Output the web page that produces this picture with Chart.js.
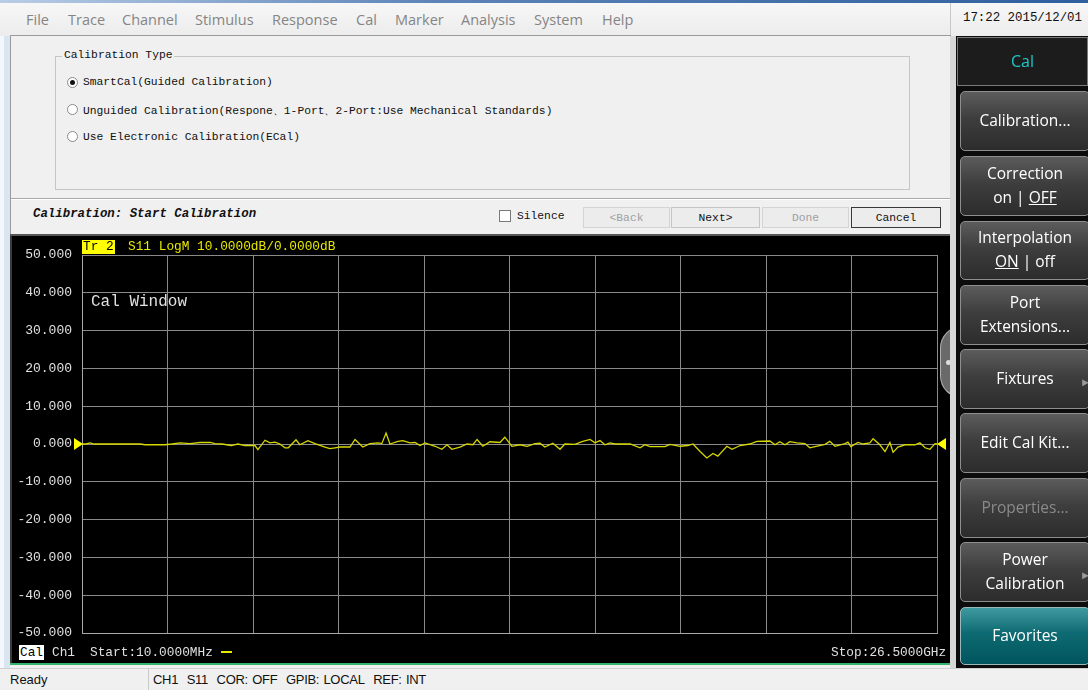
<!DOCTYPE html>
<html>
<head>
<meta charset="utf-8">
<script src="https://cdn.jsdelivr.net/npm/chart.js@4.4.1/dist/chart.umd.min.js"></script>
<style>
  html,body{margin:0;padding:0;}
  body{width:1088px;height:690px;position:relative;overflow:hidden;background:#f0f0f0;font-family:"Liberation Sans",sans-serif;}
  .abs{position:absolute;white-space:nowrap;}
  .menu{top:10px;font-family:"Open Sans",sans-serif;font-size:14.5px;color:#858585;}
  .mono{font-family:"Liberation Mono",monospace;}
  .dlg{font-family:"Liberation Mono",monospace;font-size:11.3px;color:#111;}
  .radio{position:absolute;width:9px;height:9px;border:1px solid #8a8a8a;border-radius:50%;background:#fff;}
  .btn{position:absolute;height:21px;border:1px solid #c4c4c4;background:#ececec;font-family:"Liberation Mono",monospace;font-size:11.3px;text-align:center;line-height:21px;color:#111;box-sizing:border-box;}
  .rb{position:absolute;left:960px;width:130px;border:1px solid #8e8e8e;border-radius:5px;box-sizing:border-box;
      background:linear-gradient(#5c5c5c 0%,#3e3e3e 45%,#2c2c2c 100%);color:#fff;font-family:"Open Sans",sans-serif;font-size:15.5px;text-align:center;display:flex;flex-direction:column;justify-content:center;line-height:24px;padding-bottom:3px;}
  .arrow{position:absolute;right:-2px;font-size:11px;color:#9a9a9a;}
  .ctext{font-family:"Liberation Mono",monospace;font-size:12.8px;}
</style>
</head>
<body>
<!-- window frame -->
<div class="abs" style="left:0;top:0;width:1088px;height:3px;background:linear-gradient(90deg,#b9cde6,#5d84b8 40%,#2f5f9e);"></div>
<div class="abs" style="left:0;top:3px;width:1088px;height:33px;background:linear-gradient(#f7f7f7,#ececec);"></div>
<div class="abs" style="left:0;top:36px;width:10px;height:632px;background:#dae5f2;border-left:4px solid #f4f7fb;box-sizing:border-box;"></div>

<!-- menu -->
<div class="abs menu" style="left:26px;">File</div>
<div class="abs menu" style="left:68px;">Trace</div>
<div class="abs menu" style="left:122px;">Channel</div>
<div class="abs menu" style="left:195px;">Stimulus</div>
<div class="abs menu" style="left:272px;">Response</div>
<div class="abs menu" style="left:356px;">Cal</div>
<div class="abs menu" style="left:395px;">Marker</div>
<div class="abs menu" style="left:461px;">Analysis</div>
<div class="abs menu" style="left:534px;">System</div>
<div class="abs menu" style="left:602px;">Help</div>
<div class="abs" style="left:950px;top:3px;width:1px;height:33px;background:#c8c8c8;"></div>
<div class="abs mono" style="left:963px;top:11px;font-size:12.4px;color:#111;">17:22 2015/12/01</div>

<!-- dialog -->
<div class="abs" style="left:10px;top:35px;width:940px;height:200px;border-top:1px solid #9a9a9a;border-left:1px solid #9a9a9a;background:#f0f0f0;"></div>
<div class="abs" style="left:55px;top:56px;width:855px;height:134px;border:1px solid #c6c6c6;box-sizing:border-box;"></div>
<div class="abs dlg" style="left:62px;top:49px;background:#f0f0f0;padding:0 2px;">Calibration Type</div>
<div class="radio" style="left:67px;top:77px;"><div style="position:absolute;left:2px;top:2px;width:5px;height:5px;border-radius:50%;background:#111;"></div></div>
<div class="abs dlg" style="left:83px;top:76px;">SmartCal(Guided Calibration)</div>
<div class="radio" style="left:67px;top:104px;"></div>
<div class="abs dlg" style="left:83px;top:103px;">Unguided Calibration(Respone、1-Port、2-Port:Use Mechanical Standards)</div>
<div class="radio" style="left:67px;top:131px;"></div>
<div class="abs dlg" style="left:83px;top:131px;">Use Electronic Calibration(ECal)</div>
<div class="abs" style="left:11px;top:198px;width:939px;height:1px;background:#a8a8a8;border-bottom:1px solid #fff;"></div>
<div class="abs mono" style="left:33px;top:207px;font-size:12.4px;font-weight:bold;font-style:italic;color:#111;">Calibration: Start Calibration</div>
<div class="abs" style="left:499px;top:210px;width:12px;height:12px;border:1px solid #7a7a7a;background:#fff;box-sizing:border-box;"></div>
<div class="abs dlg" style="left:517px;top:210px;">Silence</div>
<div class="btn" style="left:583px;top:207px;width:87px;color:#a0a0a0;border-color:#d4d4d4;">&lt;Back</div>
<div class="btn" style="left:671px;top:207px;width:89px;">Next&gt;</div>
<div class="btn" style="left:762px;top:207px;width:87px;color:#a0a0a0;border-color:#d4d4d4;">Done</div>
<div class="btn" style="left:851px;top:207px;width:90px;border-color:#3a3a3a;">Cancel</div>

<!-- chart region -->
<div class="abs" style="left:10px;top:234px;width:942px;height:2px;background:#555;"></div>
<div class="abs" style="left:10px;top:236px;width:2px;height:428px;background:#3a3a3a;"></div>
<div class="abs" style="left:12px;top:236px;width:938px;height:427px;background:#000;"></div>
<div class="abs" style="left:12px;top:236px;width:938px;height:427px;"><canvas id="c" width="938" height="427"></canvas></div>
<div class="abs" style="left:10px;top:663px;width:942px;height:2px;background:#33b36e;"></div>

<div class="abs ctext" style="left:82px;top:240px;height:14px;line-height:14px;background:#ffff00;color:#000;padding:0 1px;">Tr 2</div>
<div class="abs ctext" style="left:128px;top:240px;line-height:14px;color:#e8e800;">S11 LogM 10.0000dB/0.0000dB</div>
<div class="abs mono" style="left:91px;top:293px;font-size:16px;color:#e0e0e0;">Cal Window</div>
<div class="abs ctext" style="left:19px;top:645px;height:15px;line-height:15px;background:#fff;color:#000;padding:0 1px;">Cal</div>
<div class="abs ctext" style="left:52px;top:645px;line-height:15px;color:#e0e0e0;">Ch1</div>
<div class="abs ctext" style="left:90px;top:645px;line-height:15px;color:#e0e0e0;">Start:10.0000MHz</div>
<div class="abs" style="left:221px;top:651px;width:11px;height:2px;background:#e8e800;"></div>
<div class="abs ctext" style="left:831px;top:645px;line-height:15px;color:#e0e0e0;">Stop:26.5000GHz</div>
<div class="abs" style="left:940px;top:326px;width:22px;height:72px;border-radius:40px 0 0 40px;background:#6a6a6a;border:1px solid #b0b0b0;box-sizing:border-box;"></div>
<div class="abs" style="left:946px;top:360px;width:5px;height:5px;border-radius:50%;background:#ddd;"></div>

<!-- right panel -->
<div class="abs" style="left:950px;top:36px;width:6px;height:632px;background:#d8d8d8;"></div>
<div class="abs" style="left:956px;top:36px;width:132px;height:632px;background:#0c0c0c;"></div>
<div class="abs" style="left:957px;top:37px;width:131px;height:49px;background:#1c1c1c;border:1px solid #7a7a7a;box-sizing:border-box;color:#1ec8c8;font-family:'Open Sans',sans-serif;font-size:16px;text-align:center;line-height:47px;">Cal</div>
<div class="rb" style="top:91px;height:60px;">Calibration...</div>
<div class="rb" style="top:156px;height:60px;"><div>Correction</div><div>on | <u>OFF</u></div></div>
<div class="rb" style="top:221px;height:59px;"><div>Interpolation</div><div><u>ON</u> | off</div></div>
<div class="rb" style="top:285px;height:60px;"><div>Port</div><div>Extensions...</div></div>
<div class="rb" style="top:349px;height:60px;">Fixtures<span class="arrow" style="top:20px;">&#9658;</span></div>
<div class="rb" style="top:413px;height:60px;">Edit Cal Kit...</div>
<div class="rb" style="top:478px;height:60px;color:#8a8a8a;">Properties...</div>
<div class="rb" style="top:542px;height:60px;"><div>Power</div><div>Calibration</div><span class="arrow" style="top:20px;">&#9658;</span></div>
<div class="rb" style="top:607px;height:58px;background:linear-gradient(#3f9aa0 0%,#0e6a72 45%,#00555d 100%);border-color:#9ab8bb;">Favorites</div>

<!-- status bar -->
<div class="abs" style="left:0;top:668px;width:1088px;height:22px;background:#f0f0f0;border-top:1px solid #d0d0d0;"></div>
<div class="abs" style="left:10px;top:672px;font-size:13px;color:#111;">Ready</div>
<div class="abs" style="left:148px;top:669px;width:1px;height:21px;background:#c8c8c8;"></div>
<div class="abs" style="left:153px;top:672px;font-size:13px;color:#111;letter-spacing:-0.3px;word-spacing:1px;">CH1&nbsp; S11&nbsp; COR: OFF&nbsp; GPIB: LOCAL&nbsp; REF: INT</div>

<script>
// ---- data ----
const START_GHZ = 0.01;
const STOP_GHZ = 26.5;
const yTicksDb = [-50, -40, -30, -20, -10, 0, 10, 20, 30, 40, 50];
const traceFreqGHz = [
  0.01,0.13,0.26,0.38,1.81,1.96,2.58,2.80,3.05,3.36,3.67,3.98,4.13,4.35,4.63,4.84,5.06,5.37,5.46,5.68,
  5.83,5.99,6.14,6.30,6.40,6.64,6.76,7.01,7.23,7.54,7.69,7.85,8.00,8.31,8.47,8.71,8.93,9.18,9.30,9.43,
  9.55,9.80,9.95,10.17,10.33,10.48,10.64,10.95,11.16,11.32,11.47,11.72,11.94,12.12,12.25,12.43,12.65,12.96,13.11,13.33,
  13.58,13.80,14.04,14.20,14.35,14.60,14.82,14.97,15.28,15.50,15.75,15.90,16.06,16.21,16.37,16.52,16.99,17.30,17.45,17.61,
  18.07,18.23,18.54,18.78,18.94,19.16,19.37,19.56,19.71,19.99,20.15,20.40,20.70,20.92,21.32,21.48,21.63,21.79,21.94,22.16,
  22.41,22.56,22.72,23.03,23.18,23.34,23.65,23.74,23.83,24.05,24.21,24.42,24.52,24.73,24.89,25.04,25.14,25.29,25.51,25.82,
  25.97,26.13,26.28,26.44,26.50
];
const traceDb = [
  0.0,0.0,0.3,0.0,0.0,-0.2,-0.2,0.0,0.3,0.1,0.4,0.4,0.1,0.0,-0.4,0.0,-0.4,-0.4,-1.5,1.0,
  0.3,0.5,0.0,-1.0,-1.0,1.1,-0.2,0.9,0.1,-0.8,-1.2,-1.0,-0.8,-0.8,1.2,-0.8,0.1,0.3,0.1,2.9,
  0.0,0.7,0.9,0.3,0.4,-0.4,0.3,-0.6,-1.4,-0.2,-1.4,-0.8,0.0,-0.2,1.2,-0.6,0.6,0.4,1.8,-0.6,
  -0.2,-0.6,0.1,0.2,-0.8,0.2,-1.4,0.0,-0.1,0.6,1.2,0.3,0.9,-0.2,0.3,0.0,0.0,-1.0,-0.2,-0.7,
  -0.7,-0.1,-0.6,-0.4,0.0,-2.0,-3.7,-2.5,-3.2,-0.6,-1.4,-0.4,0.0,0.7,0.8,-0.2,0.6,-0.2,0.6,0.3,
  0.1,-1.0,-0.7,-0.1,0.7,-0.6,0.1,0.5,-0.7,0.4,0.0,0.3,1.4,-0.2,-2.0,0.4,-2.2,-0.8,-0.2,-0.2,
  0.3,-1.0,-1.4,0.1,0.0
];

const GRID = '#8a8a8a';
const refMarkers = {
  id: 'refMarkers',
  afterDraw(chart) {
    const {ctx, chartArea: a, scales: {y}} = chart;
    const y0 = y.getPixelForValue(0);
    ctx.save();
    ctx.fillStyle = '#ffff00';
    ctx.beginPath();
    ctx.moveTo(a.left - 8, y0 - 6); ctx.lineTo(a.left + 1, y0); ctx.lineTo(a.left - 8, y0 + 6); ctx.closePath(); ctx.fill();
    ctx.beginPath();
    ctx.moveTo(a.right + 9, y0 - 6); ctx.lineTo(a.right, y0); ctx.lineTo(a.right + 9, y0 + 6); ctx.closePath(); ctx.fill();
    ctx.restore();
  }
};

new Chart(document.getElementById('c'), {
  type: 'line',
  data: {
    datasets: [{
      data: traceFreqGHz.map((f, i) => ({x: f, y: traceDb[i]})),
      borderColor: '#d6d600',
      borderWidth: 1.3,
      pointRadius: 0,
      tension: 0,
      fill: false
    }]
  },
  options: {
    responsive: false,
    animation: false,
    devicePixelRatio: 1,
    layout: {padding: {top: 19, right: 13, bottom: 30, left: 0}},
    plugins: {legend: {display: false}, tooltip: {enabled: false}},
    scales: {
      x: {
        type: 'linear', min: START_GHZ, max: STOP_GHZ,
        afterBuildTicks(s) {
          const n = 10, t = [];
          for (let i = 0; i <= n; i++) t.push({value: START_GHZ + i * (STOP_GHZ - START_GHZ) / n});
          s.ticks = t;
        },
        afterFit(s) { s.height = 0; },
        ticks: {display: false},
        grid: {color: GRID, lineWidth: 1, drawTicks: false},
        border: {color: '#a8a8a8'}
      },
      y: {
        min: -50, max: 50,
        afterBuildTicks(s) { s.ticks = yTicksDb.map(v => ({value: v})); },
        afterFit(s) { s.width = 70; },
        ticks: {
          color: '#e0e0e0', padding: 10,
          font: {family: 'Liberation Mono', size: 13},
          callback: v => v.toFixed(3)
        },
        grid: {color: GRID, lineWidth: 1, drawTicks: false},
        border: {color: '#a8a8a8'}
      }
    }
  },
  plugins: [refMarkers]
});
</script>
</body>
</html>
